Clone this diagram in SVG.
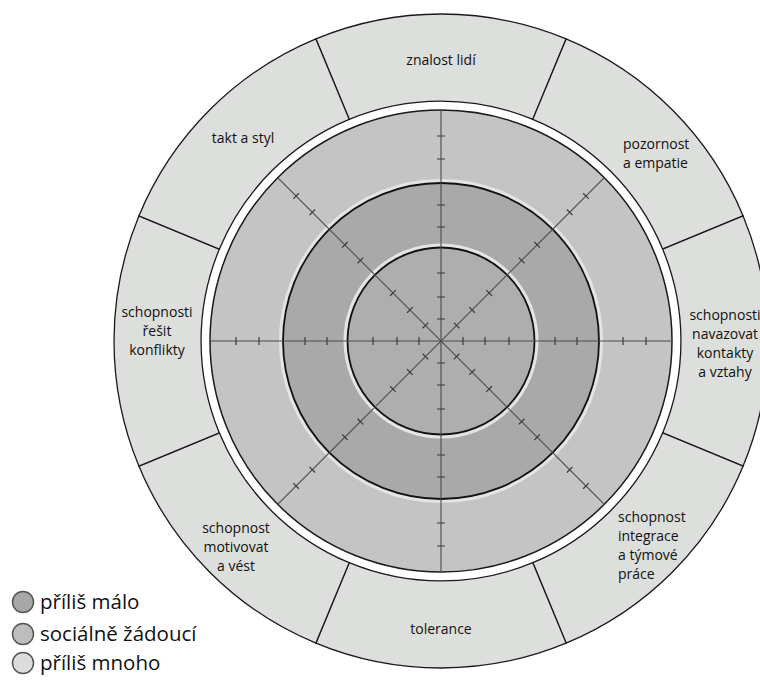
<svg xmlns="http://www.w3.org/2000/svg" xmlns:xlink="http://www.w3.org/1999/xlink" width="760" height="680" viewBox="0 0 760 680">
<style>
.seg{fill:#dddfdc;stroke:#1a1a1a;stroke-width:1.3}
.lbl{font-family:"Open Sans","Noto Sans",sans-serif;font-size:14px;fill:#111}
.leg{font-family:"Open Sans","Noto Sans",sans-serif;font-size:20.5px;fill:#111}
.ring{stroke:#111;stroke-width:1.8}
.halo{fill:none;stroke:#e4e4e4;stroke-width:4}
.spoke{stroke:#4a4a4a;stroke-width:1.1}
.tick{stroke:#3a3a3a;stroke-width:1.2}
.lc{stroke:#555;stroke-width:1.5}
</style>
<defs>
<g id="axis">
<line class="spoke" x1="-231" y1="0" x2="231" y2="0"/>
<path class="tick" d="M22,-4V4M44,-4V4M68,-4V4M114,-4V4M136,-4V4M182,-4V4M205,-4V4M-22,-4V4M-44,-4V4M-68,-4V4M-114,-4V4M-136,-4V4M-182,-4V4M-205,-4V4"/>
</g>
</defs>
<rect width="760" height="680" fill="#fff"/>
<g id="seg-znalost">
<path class="seg" d="M315.9,38.9 A327,327 0 0 1 566.1,38.9 L532.8,119.3 A240,240 0 0 0 349.2,119.3 Z"/>
<text class="lbl" x="441" y="65" text-anchor="middle">znalost lidí</text>
</g>
<g id="seg-pozornost">
<path class="seg" d="M566.1,38.9 A327,327 0 0 1 743.1,215.9 L662.7,249.2 A240,240 0 0 0 532.8,119.3 Z"/>
<text class="lbl" x="623" y="149">pozornost</text>
<text class="lbl" x="623" y="168">a empatie</text>
</g>
<g id="seg-kontakty">
<path class="seg" d="M743.1,215.9 A327,327 0 0 1 743.1,466.1 L662.7,432.8 A240,240 0 0 0 662.7,249.2 Z"/>
<text class="lbl" x="725" y="320" text-anchor="middle">schopnosti</text>
<text class="lbl" x="725" y="339" text-anchor="middle">navazovat</text>
<text class="lbl" x="725" y="358" text-anchor="middle">kontakty</text>
<text class="lbl" x="725" y="377" text-anchor="middle">a vztahy</text>
</g>
<g id="seg-integrace">
<path class="seg" d="M743.1,466.1 A327,327 0 0 1 566.1,643.1 L532.8,562.7 A240,240 0 0 0 662.7,432.8 Z"/>
<text class="lbl" x="618" y="522">schopnost</text>
<text class="lbl" x="618" y="541">integrace</text>
<text class="lbl" x="618" y="560">a týmové</text>
<text class="lbl" x="618" y="579">práce</text>
</g>
<g id="seg-tolerance">
<path class="seg" d="M566.1,643.1 A327,327 0 0 1 315.9,643.1 L349.2,562.7 A240,240 0 0 0 532.8,562.7 Z"/>
<text class="lbl" x="441" y="634" text-anchor="middle">tolerance</text>
</g>
<g id="seg-motivovat">
<path class="seg" d="M315.9,643.1 A327,327 0 0 1 138.9,466.1 L219.3,432.8 A240,240 0 0 0 349.2,562.7 Z"/>
<text class="lbl" x="236" y="533" text-anchor="middle">schopnost</text>
<text class="lbl" x="236" y="552" text-anchor="middle">motivovat</text>
<text class="lbl" x="236" y="571" text-anchor="middle">a vést</text>
</g>
<g id="seg-konflikty">
<path class="seg" d="M138.9,466.1 A327,327 0 0 1 138.9,215.9 L219.3,249.2 A240,240 0 0 0 219.3,432.8 Z"/>
<text class="lbl" x="157" y="317" text-anchor="middle">schopnosti</text>
<text class="lbl" x="157" y="336" text-anchor="middle">řešit</text>
<text class="lbl" x="157" y="355" text-anchor="middle">konflikty</text>
</g>
<g id="seg-takt">
<path class="seg" d="M138.9,215.9 A327,327 0 0 1 315.9,38.9 L349.2,119.3 A240,240 0 0 0 219.3,249.2 Z"/>
<text class="lbl" x="243" y="143" text-anchor="middle">takt a styl</text>
</g>
<g id="scale">
<circle cx="441" cy="341" r="231" fill="#c4c4c4" stroke="#1a1a1a" stroke-width="1.5"/>
<circle class="halo" cx="441" cy="341" r="160"/>
<circle class="ring" cx="441" cy="341" r="158" fill="#a9a9a9"/>
<circle class="halo" cx="441" cy="341" r="95.5"/>
<circle class="ring" cx="441" cy="341" r="93.5" fill="#aeaeae"/>
</g>
<g id="connectors">
<use xlink:href="#axis" transform="translate(441,341)"/>
<use xlink:href="#axis" transform="translate(441,341) rotate(45)"/>
<use xlink:href="#axis" transform="translate(441,341) rotate(90)"/>
<use xlink:href="#axis" transform="translate(441,341) rotate(135)"/>
</g>
<g id="legend">
<circle class="lc" cx="23" cy="602" r="10.5" fill="#a7a7a7"/>
<text class="leg" x="40" y="609">příliš málo</text>
<circle class="lc" cx="23" cy="634" r="10.5" fill="#bdbdbd"/>
<text class="leg" x="40" y="641">sociálně žádoucí</text>
<circle class="lc" cx="23" cy="663" r="10.5" fill="#dcdddb"/>
<text class="leg" x="40" y="670">příliš mnoho</text>
</g>
</svg>
